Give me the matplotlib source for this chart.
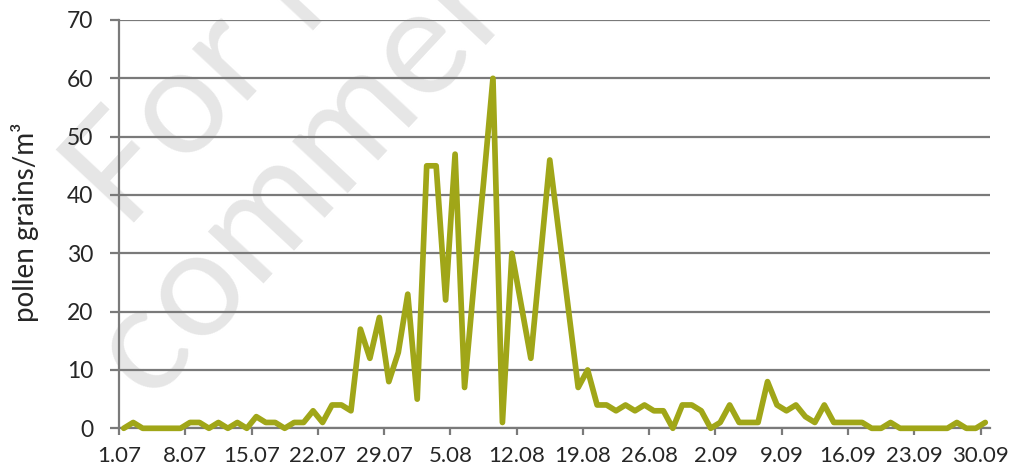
import numpy as np
import matplotlib
matplotlib.use("Agg")
import matplotlib.pyplot as plt

plt.rcParams['font.family'] = ['Lato', 'DejaVu Sans']

# ---- data -------------------------------------------------------------
pollen = [0, 1, 0, 0, 0, 0, 0, 1, 1, 0,
          1, 0, 1, 0, 2, 1, 1, 0, 1, 1,
          3, 1, 4, 4, 3, 17, 12, 19, 8, 13,
          23, 5, 45, 45, 22, 47, 7, 25, 42, 60,
          1, 30, 21, 12, 29, 46, 33, 20, 7, 10,
          4, 4, 3, 4, 3, 4, 3, 3, 0, 4,
          4, 3, 0, 1, 4, 1, 1, 1, 8, 4,
          3, 4, 2, 1, 4, 1, 1, 1, 1, 0,
          0, 1, 0, 0, 0, 0, 0, 0, 1, 0,
          0, 1]
tick_labels = ['1.07', '8.07', '15.07', '22.07', '29.07', '5.08', '12.08',
               '19.08', '26.08', '2.09', '9.09', '16.09', '23.09', '30.09']
y_ticks = [0, 10, 20, 30, 40, 50, 60, 70]
y_label = 'pollen grains/m³'
watermark_lines = ['For Non-', 'commercial use']

# ---- figure -----------------------------------------------------------
W, H = 1013, 471
fig = plt.figure(figsize=(W / 100, H / 100), dpi=100)
ax = fig.add_axes([119 / W, (H - 428.3) / H, (990 - 119) / W, (428.3 - 20) / H])
ax.set_facecolor('none')

grid_c = '#7a7a7a'
text_c = '#262626'
line_c = '#A0A618'

x = np.arange(len(pollen))
ax.plot(x, pollen, color=line_c, lw=4.1, solid_joinstyle='round',
        solid_capstyle='round', zorder=3, clip_on=False)

ax.set_xlim(-0.5, len(pollen) - 0.5)
ax.set_ylim(0, 70)
ax.set_yticks(y_ticks)
ax.set_xticks(np.arange(0, len(pollen), 7) - 0.5)
ax.set_xticklabels(tick_labels)

ax.grid(axis='y', color=grid_c, lw=1.6, zorder=1)
ax.set_axisbelow(True)
for s in ['top', 'right']:
    ax.spines[s].set_visible(False)
for s in ['left', 'bottom']:
    ax.spines[s].set_color(grid_c)
    ax.spines[s].set_linewidth(1.6)

ax.tick_params(axis='y', length=6.5, width=1.6, color=grid_c, pad=12,
               labelsize=16.5, labelcolor=text_c)
ax.tick_params(axis='x', length=5, width=1.6, color=grid_c, pad=8,
               labelsize=16, labelcolor=text_c)

fig.text(25 / W, 1 - 222 / H, y_label, rotation=90, ha='center', va='center',
         fontsize=20, color=text_c)

# watermark
fig.text(125 / W, 1 - 232 / H, watermark_lines[0], rotation=47,
         rotation_mode='anchor', ha='left', va='baseline', fontsize=108,
         color='#e6e6e6', zorder=-1)
fig.text(150 / W, 1 - 405 / H, watermark_lines[1], rotation=47,
         rotation_mode='anchor', ha='left', va='baseline', fontsize=108,
         color='#e6e6e6', zorder=-1)

fig.savefig('out.png', dpi=100)
